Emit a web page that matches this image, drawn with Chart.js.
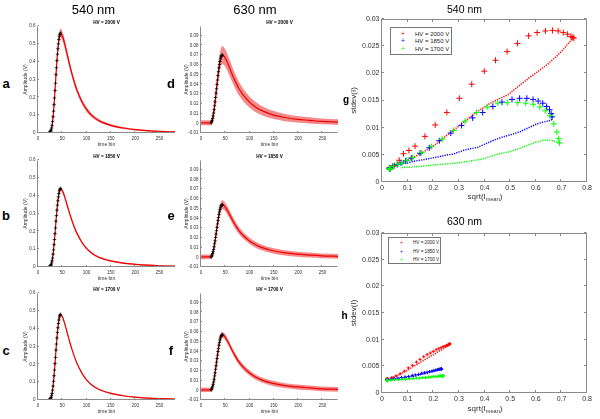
<!DOCTYPE html>
<html><head><meta charset="utf-8">
<script src="https://cdn.jsdelivr.net/npm/chart.js@4.4.1/dist/chart.umd.min.js"></script>
<style>
body{margin:0;width:600px;height:419px;position:relative;background:#fff;overflow:hidden;font-family:"Liberation Sans",Arial,sans-serif}
canvas{position:absolute}
.t{position:absolute;white-space:nowrap;color:#000;line-height:1;transform:translate(-50%,-50%)}
.leg{position:absolute;border:1px solid #777;background:#fff;box-sizing:border-box}
</style></head><body>
<script>
// ---------------- DATA ----------------
const hvLabels = ['HV = 2000 V', 'HV = 1850 V', 'HV = 1700 V'];
const pulseXTicks = [0, 50, 100, 150, 200, 250];
const amp540Ticks = [0, 0.1, 0.2, 0.3, 0.4, 0.5, 0.6];
const amp630Ticks = [-0.01, 0, 0.01, 0.02, 0.03, 0.04, 0.05, 0.06, 0.07, 0.08, 0.09];
const sqrtTicks = [0, 0.1, 0.2, 0.3, 0.4, 0.5, 0.6, 0.7, 0.8];
const stdevTicks = [0, 0.005, 0.01, 0.015, 0.02, 0.025, 0.03];

// time bins
const baseBins540 = [0, 7, 14, 22];
const riseBins540 = [23, 24, 25, 26, 27, 28, 29, 30, 31, 32, 33, 34, 35, 36, 37, 38, 39, 40, 41, 42, 43, 44, 45, 46];
const fallBins540 = [48, 50, 52, 55, 58, 62, 66, 70, 75, 80, 90, 100, 110, 125, 150, 175, 200, 225, 250, 282];
const baseBins630 = [0, 7, 14, 20];
const riseBins630 = [21, 22, 23, 24, 25, 26, 27, 28, 29, 30, 31, 32, 33, 34, 35, 36, 37, 38, 39, 40, 41, 42, 43, 44];
const fallBins630 = [46, 48, 50, 53, 56, 60, 64, 68, 73, 78, 88, 98, 108, 123, 148, 173, 198, 223, 248, 282];

// 540 nm, HV = 2000 V : mean amplitude (V) and its standard deviation
const baseMean540_2000 = [0.0009, 0.001, 0.0008, 0.0009];
const baseStd540_2000  = [0.0025, 0.0025, 0.0025, 0.0026];
const riseMean540_2000 = [0.0023, 0.0045, 0.007, 0.011, 0.0166, 0.028, 0.043, 0.064, 0.091, 0.1225, 0.159, 0.196, 0.238, 0.279, 0.327, 0.366, 0.406, 0.442, 0.472, 0.5, 0.524, 0.543, 0.553, 0.56];
const riseStd540_2000  = [0.003, 0.004, 0.0052, 0.0058, 0.0066, 0.0084, 0.0105, 0.0128, 0.0154, 0.018, 0.0204, 0.0224, 0.024, 0.0255, 0.0269, 0.0275, 0.0278, 0.0279, 0.0278, 0.0275, 0.0272, 0.0268, 0.0266, 0.0265];
const fallMean540_2000 = [0.556, 0.545, 0.53, 0.5, 0.465, 0.418, 0.372, 0.33, 0.283, 0.242, 0.178, 0.132, 0.1, 0.07, 0.043, 0.028, 0.019, 0.013, 0.009, 0.006];
const fallStd540_2000  = [0.0265, 0.0261, 0.0256, 0.0244, 0.0232, 0.0217, 0.0204, 0.0192, 0.0176, 0.0161, 0.0145, 0.0127, 0.0109, 0.009, 0.0069, 0.0057, 0.0049, 0.0044, 0.0039, 0.0036];

// 540 nm, HV = 1850 V
const baseMean540_1850 = [0.0009, 0.0009, 0.001, 0.0009];
const baseStd540_1850  = [0.0024, 0.0025, 0.0024, 0.0026];
const riseMean540_1850 = [0.0018, 0.0035, 0.0055, 0.0086, 0.013, 0.022, 0.034, 0.05, 0.072, 0.096, 0.125, 0.154, 0.187, 0.219, 0.257, 0.288, 0.319, 0.347, 0.371, 0.393, 0.412, 0.427, 0.435, 0.44];
const riseStd540_1850  = [0.0029, 0.0032, 0.0035, 0.0039, 0.0044, 0.0053, 0.0063, 0.0076, 0.009, 0.0104, 0.0118, 0.0128, 0.0139, 0.0147, 0.0152, 0.0154, 0.0154, 0.0152, 0.0149, 0.0145, 0.0139, 0.0133, 0.0126, 0.012];
const fallMean540_1850 = [0.437, 0.428, 0.416, 0.393, 0.365, 0.328, 0.292, 0.259, 0.222, 0.19, 0.14, 0.104, 0.079, 0.055, 0.034, 0.022, 0.015, 0.01, 0.007, 0.005];
const fallStd540_1850  = [0.0114, 0.0113, 0.0112, 0.011, 0.0107, 0.01, 0.0093, 0.0088, 0.0083, 0.0077, 0.0064, 0.0059, 0.0052, 0.0048, 0.0043, 0.004, 0.0038, 0.0035, 0.0034, 0.0033];

// 540 nm, HV = 1700 V
const baseMean540_1700 = [0.0009, 0.0008, 0.0009, 0.001];
const baseStd540_1700  = [0.0024, 0.0024, 0.0025, 0.0025];
const riseMean540_1700 = [0.002, 0.0039, 0.006, 0.0094, 0.0142, 0.024, 0.037, 0.055, 0.078, 0.105, 0.136, 0.168, 0.204, 0.239, 0.28, 0.314, 0.348, 0.379, 0.405, 0.429, 0.449, 0.465, 0.474, 0.48];
const riseStd540_1700  = [0.0029, 0.0033, 0.0035, 0.004, 0.0045, 0.0054, 0.0065, 0.0079, 0.0095, 0.0112, 0.0128, 0.0138, 0.0145, 0.0146, 0.0146, 0.0145, 0.0143, 0.0138, 0.0131, 0.0122, 0.0107, 0.0092, 0.008, 0.0072];
const fallMean540_1700 = [0.476, 0.467, 0.454, 0.428, 0.398, 0.358, 0.318, 0.283, 0.242, 0.207, 0.152, 0.113, 0.086, 0.06, 0.037, 0.024, 0.016, 0.011, 0.008, 0.005];
const fallStd540_1700  = [0.0072, 0.0073, 0.0075, 0.0077, 0.0077, 0.0073, 0.0067, 0.0061, 0.0055, 0.0052, 0.0042, 0.0038, 0.0035, 0.0033, 0.0031, 0.0029, 0.0028, 0.0027, 0.0027, 0.0026];

// 630 nm, HV = 2000 V
const baseMean630_2000 = [0.0004, 0.0005, 0.0004, 0.0004];
const baseStd630_2000  = [0.0026, 0.0026, 0.0027, 0.0026];
const riseMean630_2000 = [0.0005, 0.0015, 0.003, 0.005, 0.0075, 0.0105, 0.014, 0.018, 0.022, 0.0265, 0.031, 0.0355, 0.04, 0.0445, 0.049, 0.053, 0.057, 0.0605, 0.0635, 0.066, 0.068, 0.0692, 0.0698, 0.07];
const riseStd630_2000  = [0.0027, 0.0029, 0.0032, 0.0036, 0.0041, 0.0047, 0.0052, 0.0058, 0.0063, 0.0068, 0.0072, 0.0075, 0.0078, 0.0081, 0.0083, 0.0085, 0.0087, 0.0088, 0.0089, 0.009, 0.0091, 0.0092, 0.0092, 0.0092];
const fallMean630_2000 = [0.0695, 0.0685, 0.067, 0.064, 0.0605, 0.0555, 0.0505, 0.046, 0.0405, 0.0357, 0.0285, 0.0228, 0.0183, 0.0135, 0.0087, 0.0059, 0.0041, 0.003, 0.0019, 0.0012];
const fallStd630_2000  = [0.0091, 0.009, 0.0089, 0.0087, 0.0085, 0.0082, 0.0079, 0.0076, 0.0072, 0.0069, 0.0063, 0.0058, 0.0053, 0.0048, 0.0041, 0.0037, 0.0034, 0.0032, 0.003, 0.0029];

// 630 nm, HV = 1850 V
const baseMean630_1850 = [0.0004, 0.0004, 0.0005, 0.0004];
const baseStd630_1850  = [0.0025, 0.0025, 0.0024, 0.0025];
const riseMean630_1850 = [0.0004, 0.0012, 0.0023, 0.0039, 0.0058, 0.0081, 0.0108, 0.0139, 0.0169, 0.0204, 0.0239, 0.0273, 0.0308, 0.0343, 0.0377, 0.0408, 0.0439, 0.0466, 0.0489, 0.0508, 0.0524, 0.0533, 0.0538, 0.054];
const riseStd630_1850  = [0.0025, 0.0026, 0.0027, 0.0028, 0.0029, 0.003, 0.0031, 0.0033, 0.0034, 0.0035, 0.0037, 0.0038, 0.0039, 0.004, 0.0041, 0.0042, 0.0043, 0.0044, 0.0044, 0.0045, 0.0045, 0.0045, 0.0045, 0.0045];
const fallMean630_1850 = [0.0536, 0.0528, 0.0516, 0.0493, 0.0466, 0.0428, 0.0389, 0.0354, 0.0312, 0.0275, 0.0219, 0.0176, 0.0141, 0.0104, 0.0067, 0.0045, 0.0032, 0.0023, 0.0015, 0.0009];
const fallStd630_1850  = [0.0044, 0.0044, 0.0043, 0.0043, 0.0042, 0.0041, 0.004, 0.0039, 0.0037, 0.0036, 0.0034, 0.0032, 0.0031, 0.003, 0.0028, 0.0027, 0.0026, 0.0026, 0.0025, 0.0025];

// 630 nm, HV = 1700 V
const baseMean630_1700 = [0.0004, 0.0004, 0.0004, 0.0005];
const baseStd630_1700  = [0.0023, 0.0024, 0.0023, 0.0024];
const riseMean630_1700 = [0.0004, 0.0012, 0.0024, 0.0041, 0.0061, 0.0085, 0.0114, 0.0147, 0.0179, 0.0216, 0.0252, 0.0289, 0.0326, 0.0362, 0.0399, 0.0431, 0.0464, 0.0492, 0.0517, 0.0537, 0.0554, 0.0563, 0.0568, 0.057];
const riseStd630_1700  = [0.0024, 0.0024, 0.0025, 0.0025, 0.0026, 0.0026, 0.0027, 0.0027, 0.0028, 0.0028, 0.0029, 0.0029, 0.003, 0.003, 0.0031, 0.0031, 0.0031, 0.0032, 0.0032, 0.0032, 0.0032, 0.0032, 0.0032, 0.0032];
const fallMean630_1700 = [0.0566, 0.0558, 0.0545, 0.052, 0.0493, 0.0452, 0.0412, 0.0374, 0.033, 0.0291, 0.0232, 0.0186, 0.0149, 0.011, 0.0071, 0.0048, 0.0034, 0.0024, 0.0015, 0.001];
const fallStd630_1700  = [0.0031, 0.0031, 0.0031, 0.0031, 0.003, 0.003, 0.003, 0.0029, 0.0029, 0.0028, 0.0028, 0.0027, 0.0027, 0.0026, 0.0026, 0.0025, 0.0025, 0.0025, 0.0024, 0.0024];

const hvColors = ['#ff0000', '#0000ff', '#00ff00'];

// ---------------- HELPERS ----------------
const FONT = '"Liberation Sans", Arial, sans-serif';
Chart.defaults.font.family = FONT;

const mAxes = {
  id: 'mAxes',
  afterDatasetsDraw(chart, args, o) {
    const {ctx, chartArea: a, scales} = chart;
    const xs = scales.x, ys = scales.y;
    const L = Math.floor(a.left) - 0.5, R = Math.round(a.right) - 0.5;
    const T = Math.floor(a.top) + 0.5, B = Math.round(a.bottom) - 0.5;
    const tl = o.tickLen || 2;
    ctx.save();
    ctx.strokeStyle = o.color || '#888';
    ctx.lineWidth = 1;
    ctx.beginPath();
    ctx.moveTo(L, T); ctx.lineTo(L, B); ctx.lineTo(R, B);
    if (o.box) { ctx.lineTo(R, T); ctx.lineTo(L, T); }
    xs.ticks.forEach(t => {
      const px = Math.round(xs.getPixelForValue(t.value)) - 0.5;
      ctx.moveTo(px, B); ctx.lineTo(px, B - tl);
      if (o.box) { ctx.moveTo(px, T); ctx.lineTo(px, T + tl); }
    });
    ys.ticks.forEach(t => {
      const py = Math.round(ys.getPixelForValue(t.value)) - 0.5;
      ctx.moveTo(L, py); ctx.lineTo(L + tl, py);
      if (o.box) { ctx.moveTo(R, py); ctx.lineTo(R - tl, py); }
    });
    ctx.stroke();
    ctx.restore();
  }
};
Chart.register(mAxes);

function txt(html, x, y, size, opts = {}) {
  const d = document.createElement('div');
  d.className = 't';
  d.innerHTML = html;
  d.style.left = x + 'px';
  d.style.top = y + 'px';
  d.style.fontSize = size + 'px';
  if (opts.bold) d.style.fontWeight = 'bold';
  if (opts.color) d.style.color = opts.color;
  if (opts.left) d.style.transform = 'translate(0,-50%)';
  document.body.appendChild(d);
  return d;
}

function makeCanvas(L, T, W, H, m) {
  const c = document.createElement('canvas');
  const w = W + m.l + m.r, h = H + m.t + m.b;
  c.width = w; c.height = h;
  c.style.width = w + 'px'; c.style.height = h + 'px';
  c.style.left = (L - m.l) + 'px';
  c.style.top = (T - m.t) + 'px';
  document.body.appendChild(c);
  return c;
}

const fmt = v => String(+v.toFixed(4));
const noGrid = {display: false, drawTicks: false, tickLength: 0};

function pts(xs, ys) { return xs.map((x, i) => ({x, y: ys[i]})); }

// --------- pulse panels (a-f) ---------
function pulsePanel(L, T, s, yMin, yMax, yTicks, yTitleX) {
  const W = 137, H = 107;
  const m = {l: 23, t: 6, r: 6, b: 18};
  const cv = makeCanvas(L, T, W, H, m);
  const bins = [...s.bb, ...s.rb, ...s.fb];
  const mean = [...s.bm, ...s.rm, ...s.fm];
  const sd = [...s.bs, ...s.rs, ...s.fs];
  const tf = 5, lh = tf * 1.2;
  new Chart(cv, {
    type: 'line',
    data: {datasets: [
      {data: pts(s.rb, s.rm), showLine: false, pointStyle: 'cross', pointRadius: 1.7, borderColor: '#000', borderWidth: 0.8},
      {data: pts(bins, mean), borderColor: '#ee0000', borderWidth: 1.2, pointRadius: 0, cubicInterpolationMode: 'monotone', fill: false},
      {data: pts(bins, mean.map((v, i) => v + sd[i])), borderWidth: 0, borderColor: 'rgba(0,0,0,0)', pointRadius: 0, cubicInterpolationMode: 'monotone', fill: 3, backgroundColor: 'rgba(236,60,60,0.6)'},
      {data: pts(bins, mean.map((v, i) => v - sd[i])), borderWidth: 0, borderColor: 'rgba(0,0,0,0)', pointRadius: 0, cubicInterpolationMode: 'monotone', fill: false}
    ]},
    options: {
      responsive: false, animation: false, devicePixelRatio: 1, events: [],
      layout: {padding: {top: m.t, right: m.r, left: 0, bottom: 0}},
      plugins: {legend: {display: false}, tooltip: {enabled: false}, mAxes: {box: false, color: '#8a8a8a', tickLen: 1.5}},
      scales: {
        x: {type: 'linear', min: 0, max: 282,
          afterBuildTicks: sc => { sc.ticks = pulseXTicks.map(v => ({value: v})); },
          afterFit: sc => { sc.height = m.b; },
          grid: noGrid, border: {display: false},
          ticks: {font: {size: 4.5}, color: '#333', padding: 3, maxRotation: 0, autoSkip: false, callback: fmt},
          title: {display: true, text: 'time bin', font: {size: tf}, color: '#333', padding: {top: 0, bottom: m.b - 11.3 - lh / 2}}},
        y: {type: 'linear', min: yMin, max: yMax,
          afterBuildTicks: sc => { sc.ticks = yTicks.map(v => ({value: v})); },
          afterFit: sc => { sc.width = m.l; },
          grid: noGrid, border: {display: false},
          ticks: {font: {size: 4.5}, color: '#333', padding: 2.5, autoSkip: false, callback: fmt},
          title: {display: true, text: 'Amplitude (V)', font: {size: tf}, color: '#333', padding: {top: yTitleX - (L - m.l) - lh / 2, bottom: 0}}}
      }
    }
  });
}

function ser(bb, bm, bs, rb, rm, rs, fb, fm, fs) { return {bb, bm, bs, rb, rm, rs, fb, fm, fs}; }

const S540 = [
  ser(baseBins540, baseMean540_2000, baseStd540_2000, riseBins540, riseMean540_2000, riseStd540_2000, fallBins540, fallMean540_2000, fallStd540_2000),
  ser(baseBins540, baseMean540_1850, baseStd540_1850, riseBins540, riseMean540_1850, riseStd540_1850, fallBins540, fallMean540_1850, fallStd540_1850),
  ser(baseBins540, baseMean540_1700, baseStd540_1700, riseBins540, riseMean540_1700, riseStd540_1700, fallBins540, fallMean540_1700, fallStd540_1700)
];
const S630 = [
  ser(baseBins630, baseMean630_2000, baseStd630_2000, riseBins630, riseMean630_2000, riseStd630_2000, fallBins630, fallMean630_2000, fallStd630_2000),
  ser(baseBins630, baseMean630_1850, baseStd630_1850, riseBins630, riseMean630_1850, riseStd630_1850, fallBins630, fallMean630_1850, fallStd630_1850),
  ser(baseBins630, baseMean630_1700, baseStd630_1700, riseBins630, riseMean630_1700, riseStd630_1700, fallBins630, fallMean630_1700, fallStd630_1700)
];

const rowsT = [26, 160, 293];
const col1L = 38, col2L = 201;
rowsT.forEach((T, i) => {
  pulsePanel(col1L, T, S540[i], 0, 0.6, amp540Ticks, 26);
  pulsePanel(col2L, T, S630[i], -0.01, 0.1, amp630Ticks, 187);
  txt(hvLabels[i], col1L + 68.5, T - 3.5, 4.7, {bold: true});
  txt(hvLabels[i], col2L + 68.5 + (i === 0 ? 10 : 0), T - 3.5, 4.7, {bold: true});
});

// --------- scatter panels (g, h) ---------
function scatPanel(L, T, W, H, S, mk) {
  const m = {l: 37, t: 8, r: 6, b: 14};
  const cv = makeCanvas(L, T, W, H, m);
  const ds = [];
  [2, 1, 0].forEach(k => {
    const s = S[k];
    const upM = [...s.bm, ...s.rm], upS = [...s.bs, ...s.rs];
    const dnM = [s.rm[s.rm.length - 1], ...s.fm], dnS = [s.rs[s.rs.length - 1], ...s.fs];
    ds.push({data: upM.map((v, i) => ({x: Math.sqrt(v), y: upS[i]})), showLine: false, pointStyle: 'cross', pointRadius: mk, borderColor: hvColors[k], borderWidth: 1});
    ds.push({data: dnM.map((v, i) => ({x: Math.sqrt(v), y: dnS[i]})), showLine: true, borderColor: hvColors[k], borderWidth: 1.5, borderDash: [1.2, 1.2], pointRadius: 0, tension: 0, fill: false});
  });
  const lh = 8 * 1.2;
  new Chart(cv, {
    type: 'line',
    data: {datasets: ds},
    options: {
      responsive: false, animation: false, devicePixelRatio: 1, events: [],
      layout: {padding: {top: m.t, right: m.r, left: 0, bottom: 0}},
      plugins: {legend: {display: false}, tooltip: {enabled: false}, mAxes: {box: true, color: '#8a8a8a', tickLen: 2.5}},
      scales: {
        x: {type: 'linear', min: 0, max: 0.8,
          afterBuildTicks: sc => { sc.ticks = sqrtTicks.map(v => ({value: v})); },
          afterFit: sc => { sc.height = m.b; },
          grid: noGrid, border: {display: false},
          ticks: {font: {size: 7}, color: '#333', padding: 2, maxRotation: 0, autoSkip: false, callback: fmt}},
        y: {type: 'linear', min: 0, max: 0.03,
          afterBuildTicks: sc => { sc.ticks = stdevTicks.map(v => ({value: v})); },
          afterFit: sc => { sc.width = m.l; },
          grid: noGrid, border: {display: false},
          ticks: {font: {size: 7}, color: '#333', padding: 2.5, autoSkip: false, callback: fmt},
          title: {display: true, text: 'stdev(I)', font: {size: 8}, color: '#333', padding: {top: 354 - (L - m.l) - lh / 2, bottom: 0}}}
      }
    }
  });
}

scatPanel(382, 19, 206, 163, S540, 3);
scatPanel(382, 233, 206, 160, S630, 1.6);

// legends
function legend(x, y, w, h, rowsY, mkX, txX, size) {
  const d = document.createElement('div');
  d.className = 'leg';
  d.style.left = x + 'px'; d.style.top = y + 'px';
  d.style.width = w + 'px'; d.style.height = h + 'px';
  document.body.appendChild(d);
  hvLabels.forEach((lab, i) => {
    txt('+', mkX, rowsY[i], size * 1.1, {color: hvColors[i]});
    txt(lab, txX, rowsY[i], size, {left: true, color: '#222'});
  });
}
legend(390, 27, 62, 28, [33.5, 41, 48.5], 403, 415, 6);
legend(388, 237, 53, 27, [243.3, 251.5, 259.7], 401.5, 413, 4.6);

// axis titles with subscript
txt('sqrt(I<sub style="font-size:70%;vertical-align:-0.35em">mean</sub>)', 485, 197.5, 8, {color: '#333'});
txt('sqrt(I<sub style="font-size:70%;vertical-align:-0.35em">mean</sub>)', 485, 409.5, 8, {color: '#333'});

// titles and panel letters
txt('540 nm', 93.5, 9, 13);
txt('630 nm', 255, 9, 13);
txt('540 nm', 464.5, 9, 10.5);
txt('630 nm', 464.5, 220.5, 10.5);
[['a', 6, 83], ['b', 6, 215], ['c', 6, 350], ['d', 171, 83], ['e', 171, 215], ['f', 171, 350]].forEach(([l, x, y]) => txt(l, x, y, 13, {bold: true}));
txt('g', 346, 100, 10, {bold: true});
txt('h', 344.5, 316, 10, {bold: true});
</script>
</body></html>
